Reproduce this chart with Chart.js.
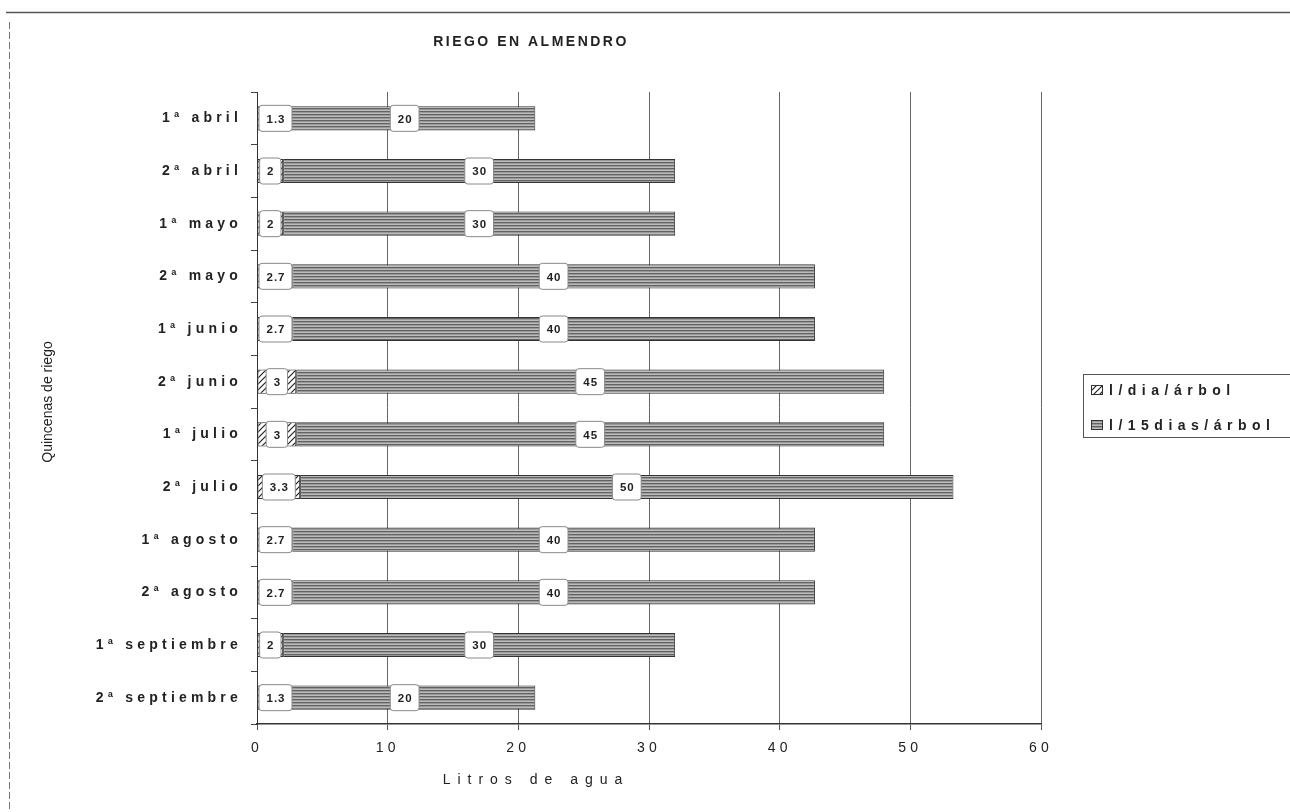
<!DOCTYPE html>
<html>
<head>
<meta charset="utf-8">
<script src="https://cdn.jsdelivr.net/npm/chart.js@4.4.1/dist/chart.umd.min.js"></script>
<style>
  html, body { margin: 0; padding: 0; background: #fff; }
  #wrap { width: 1290px; height: 812px; position: relative; }
</style>
</head>
<body>
<div id="wrap"><canvas id="riegoAlmendroChart" width="1290" height="812"></canvas></div>
<script>
// Riego en almendro
const quincenas = ['1ª abril', '2ª abril', '1ª mayo', '2ª mayo', '1ª junio', '2ª junio',
                   '1ª julio', '2ª julio', '1ª agosto', '2ª agosto', '1ª septiembre', '2ª septiembre'];
const litrosDia = [1.3, 2, 2, 2.7, 2.7, 3, 3, 3.3, 2.7, 2.7, 2, 1.3];
const litros15Dias = [20, 30, 30, 40, 40, 45, 45, 50, 40, 40, 30, 20];
const nombresSeries = ['l/dia/árbol', 'l/15dias/árbol'];
const tituloGrafico = 'RIEGO EN ALMENDRO';
const tituloEjeX = 'Litros de agua';
const tituloEjeY = 'Quincenas de riego';
const ejeXMin = 0, ejeXMax = 60, ejeXPaso = 10;

const FUENTE = '"Liberation Sans", Arial, sans-serif';
const canvas = document.getElementById('riegoAlmendroChart');
const ctx = canvas.getContext('2d');

// Tramas de relleno (imitan el grafico original en blanco y negro)
function tramaDiagonal() {
    const c = document.createElement('canvas');
    c.width = 6; c.height = 6;
    const g = c.getContext('2d');
    g.fillStyle = '#fff';
    g.fillRect(0, 0, 6, 6);
    g.strokeStyle = '#222';
    g.lineWidth = 1.2;
    g.beginPath();
    g.moveTo(0, 6); g.lineTo(6, 0);
    g.moveTo(-3, 3); g.lineTo(3, -3);
    g.moveTo(3, 9); g.lineTo(9, 3);
    g.stroke();
    return ctx.createPattern(c, 'repeat');
}

function tramaHorizontal() {
    const c = document.createElement('canvas');
    c.width = 4; c.height = 3;
    const g = c.getContext('2d');
    g.fillStyle = '#999';
    g.fillRect(0, 0, 4, 3);
    g.fillStyle = '#626262';
    g.fillRect(0, 0, 4, 1);
    g.fillStyle = '#bcbcbc';
    g.fillRect(0, 2, 4, 1);
    return ctx.createPattern(c, 'repeat');
}

const rellenos = [tramaDiagonal(), tramaHorizontal()];

function cajaRedondeada(c, x, y, w, h, r) {
    c.beginPath();
    c.moveTo(x + r, y);
    c.lineTo(x + w - r, y);
    c.quadraticCurveTo(x + w, y, x + w, y + r);
    c.lineTo(x + w, y + h - r);
    c.quadraticCurveTo(x + w, y + h, x + w - r, y + h);
    c.lineTo(x + r, y + h);
    c.quadraticCurveTo(x, y + h, x, y + h - r);
    c.lineTo(x, y + r);
    c.quadraticCurveTo(x, y, x + r, y);
    c.closePath();
}

// Plugin: fondo, marco, etiquetas de valores, titulos y leyenda
const decoracionRiego = {
    id: 'decoracionRiego',
    beforeDraw(chart) {
        const c = chart.ctx;
        c.save();
        c.fillStyle = '#fff';
        c.fillRect(0, 0, chart.width, chart.height);
        c.strokeStyle = '#555';
        c.lineWidth = 1.5;
        c.beginPath();
        c.moveTo(6, 12.5);
        c.lineTo(chart.width, 12.5);
        c.stroke();
        c.strokeStyle = '#777';
        c.lineWidth = 1;
        c.setLineDash([7, 3]);
        c.beginPath();
        c.moveTo(9.5, 22);
        c.lineTo(9.5, chart.height);
        c.stroke();
        c.restore();
        // espaciado de letras para las etiquetas de los ejes
        c.letterSpacing = '4.2px';
    },
    afterDatasetsDraw(chart) {
        const c = chart.ctx;
        const area = chart.chartArea;
        c.save();
        c.font = 'bold 11.5px ' + FUENTE;
        c.letterSpacing = '1px';
        c.textBaseline = 'middle';
        c.textAlign = 'left';
        chart.data.datasets.forEach((ds, i) => {
            const meta = chart.getDatasetMeta(i);
            meta.data.forEach((bar, j) => {
                const p = bar.getProps(['x', 'y', 'base'], true);
                const texto = String(ds.data[j]);
                const tw = c.measureText(texto).width;
                const w = tw + 14;
                const h = 26;
                const centro = (p.x + p.base) / 2;
                const izq = Math.max(centro - w / 2, area.left + 2);
                cajaRedondeada(c, izq, p.y - h / 2, w, h, 3);
                c.fillStyle = '#fff';
                c.fill();
                c.strokeStyle = '#8a8a8a';
                c.lineWidth = 1;
                c.stroke();
                c.fillStyle = '#222';
                c.fillText(texto, izq + (w - tw) / 2 + 0.5, p.y + 1);
            });
        });
        c.restore();
    },
    afterDraw(chart) {
        const c = chart.ctx;
        c.save();
        c.fillStyle = '#222';
        c.textBaseline = 'middle';

        // titulo
        c.textAlign = 'center';
        c.font = 'bold 14px ' + FUENTE;
        c.letterSpacing = '2.5px';
        c.fillText(tituloGrafico, 531, 42);

        // titulo eje X
        c.font = '14px ' + FUENTE;
        c.letterSpacing = '7px';
        c.fillText(tituloEjeX, 536, 780);

        // titulo eje Y
        c.letterSpacing = '0px';
        c.font = '14px ' + FUENTE;
        c.save();
        c.translate(48, 402);
        c.rotate(-Math.PI / 2);
        c.fillText(tituloEjeY, 0, 0);
        c.restore();

        // leyenda
        c.strokeStyle = '#555';
        c.lineWidth = 1;
        c.strokeRect(1083.5, 374.5, 220, 63);
        const filas = [390, 425];
        c.font = 'bold 14px ' + FUENTE;
        c.letterSpacing = '5.5px';
        c.textAlign = 'left';
        nombresSeries.forEach((nombre, i) => {
            const y = filas[i];
            c.fillStyle = rellenos[i];
            c.fillRect(1091, y - 5, 12, 10);
            c.strokeStyle = '#333';
            c.strokeRect(1091.5, y - 4.5, 11, 9);
            c.fillStyle = '#222';
            c.fillText(nombre, 1109, y + 1);
        });
        c.restore();
        c.letterSpacing = '0px';
    }
};

const datosGrafico = {
    labels: quincenas,
    datasets: [
        { label: nombresSeries[0], data: litrosDia },
        { label: nombresSeries[1], data: litros15Dias }
    ].map((serie, i) => ({
        label: serie.label,
        data: serie.data,
        backgroundColor: rellenos[i],
        borderColor: '#333',
        borderWidth: 1,
        borderSkipped: false,
        categoryPercentage: 1,
        barPercentage: 0.46
    }))
};

window.riegoAlmendroChart = new Chart(ctx, {
    type: 'bar',
    data: datosGrafico,
    plugins: [decoracionRiego],
    options: {
        indexAxis: 'y',
        responsive: false,
        devicePixelRatio: 1,
        animation: false,
        layout: { padding: { top: 92, right: 249, left: 0, bottom: 0 } },
        plugins: {
            legend: { display: false },
            title: { display: false },
            tooltip: { enabled: false }
        },
        scales: {
            x: {
                stacked: true,
                min: ejeXMin,
                max: ejeXMax,
                afterFit: (s) => { s.height = 88; },
                ticks: {
                    stepSize: ejeXPaso,
                    color: '#222',
                    padding: 10,
                    font: { family: FUENTE, size: 14 }
                },
                grid: { color: '#666', lineWidth: 1, drawTicks: true, tickLength: 6, tickColor: '#555' },
                border: { display: true, color: '#333', width: 1.5 }
            },
            y: {
                stacked: true,
                afterFit: (s) => { s.width = 257; },
                ticks: {
                    autoSkip: false,
                    color: '#222',
                    padding: 9,
                    font: { family: FUENTE, size: 14, weight: 'bold' }
                },
                grid: { drawOnChartArea: false, drawTicks: true, tickLength: 6, offset: true, tickColor: '#444' },
                border: { display: true, color: '#333', width: 1 }
            }
        }
    }
});
</script>
</body>
</html>
